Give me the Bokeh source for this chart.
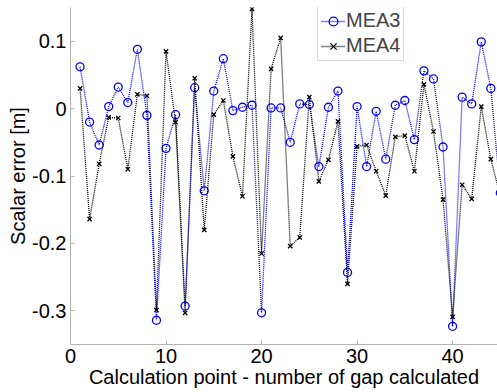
from bokeh.plotting import figure
from bokeh.models import (Range1d, FixedTicker, CustomJSTickFormatter,
                          Legend, LegendItem)
from bokeh.embed import file_html
from bokeh.resources import INLINE

# Calculation points (gap index) and scalar errors of the two methods
points = list(range(1, 46))
mea3 = [0.062, -0.020, -0.054, 0.003, 0.032, 0.009, 0.088, -0.010, -0.314, -0.059,
        -0.009, -0.293, 0.031, -0.122, 0.026, 0.074, -0.003, 0.002, 0.005, -0.303,
        0.001, 0.001, -0.050, 0.007, 0.006, -0.086, 0.002, 0.026, -0.243, 0.003,
        -0.086, -0.004, -0.075, 0.005, 0.012, -0.046, 0.056, 0.044, -0.057, -0.323,
        0.017, 0.007, 0.099, 0.030, -0.125]
mea4 = [0.030, -0.164, -0.082, -0.013, -0.014, -0.090, 0.021, 0.019, -0.299, 0.085,
        -0.020, -0.303, 0.045, -0.180, -0.009, 0.012, -0.071, -0.130, 0.148, -0.215,
        0.059, 0.105, -0.204, -0.191, 0.017, -0.108, -0.076, -0.019, -0.260, -0.056,
        -0.054, -0.093, -0.129, -0.042, -0.040, -0.093, 0.036, -0.034, -0.135, -0.309,
        -0.113, -0.134, 0.003, -0.075, -0.130]

x_ticks = [0, 10, 20, 30, 40]
y_ticks = [-0.3, -0.2, -0.1, 0, 0.1]

FONT = "Liberation Sans"
AXIS_GREY = "#b4b4b4"

p = figure(width=497, height=392, output_backend="svg", toolbar_location=None,
           x_range=Range1d(0, 44.7), y_range=Range1d(-0.35, 0.15),
           min_border_left=70, min_border_right=0, min_border_top=7,
           min_border_bottom=48)
p.outline_line_color = None
p.grid.grid_line_color = None
p.background_fill_color = "white"
p.border_fill_color = "white"

# MEA3: blue dotted line with open circles
l3 = p.line(points, mea3, line_color="#0000ff", line_width=1.3, line_dash="1 1")
s3 = p.scatter(points, mea3, marker="circle", size=8, fill_color=None,
               line_color="#0000ff", line_width=1.3)
# MEA4: black dotted line with x markers
l4 = p.line(points, mea4, line_color="black", line_width=1.3, line_dash="1 1")
s4 = p.scatter(points, mea4, marker="x", size=6, line_color="black", line_width=1.3)

p.xaxis.ticker = FixedTicker(ticks=x_ticks)
p.yaxis.ticker = FixedTicker(ticks=y_ticks)
p.yaxis.formatter = CustomJSTickFormatter(code="return String(Math.round(tick * 10) / 10);")

p.xaxis.axis_label = "Calculation point - number of gap calculated"
p.yaxis.axis_label = "Scalar error [m]"

for ax in (p.xaxis, p.yaxis):
    ax.axis_line_color = AXIS_GREY
    ax.major_tick_line_color = AXIS_GREY
    ax.minor_tick_line_color = None
    ax.major_tick_in = 4
    ax.major_tick_out = 0
    ax.major_label_text_font = FONT
    ax.major_label_text_font_size = "20px"
    ax.major_label_text_color = "black"
    ax.axis_label_text_font = FONT
    ax.axis_label_text_font_size = "20px"
    ax.axis_label_text_font_style = "normal"
    ax.axis_label_text_color = "black"
    ax.axis_label_standoff = 0

p.xaxis.major_label_standoff = 4
p.yaxis.major_label_standoff = 4

legend = Legend(items=[LegendItem(label="MEA3", renderers=[l3, s3]),
                       LegendItem(label="MEA4", renderers=[l4, s4])],
                location=(247, 283), orientation="vertical",
                label_text_font=FONT, label_text_font_size="20px",
                glyph_width=24, glyph_height=22, label_height=22,
                label_standoff=1, spacing=2, padding=3, margin=0,
                border_line_color=AXIS_GREY, border_line_width=1,
                background_fill_color="white", background_fill_alpha=1)
p.add_layout(legend)

open("out.html", "w").write(file_html(p, INLINE))
